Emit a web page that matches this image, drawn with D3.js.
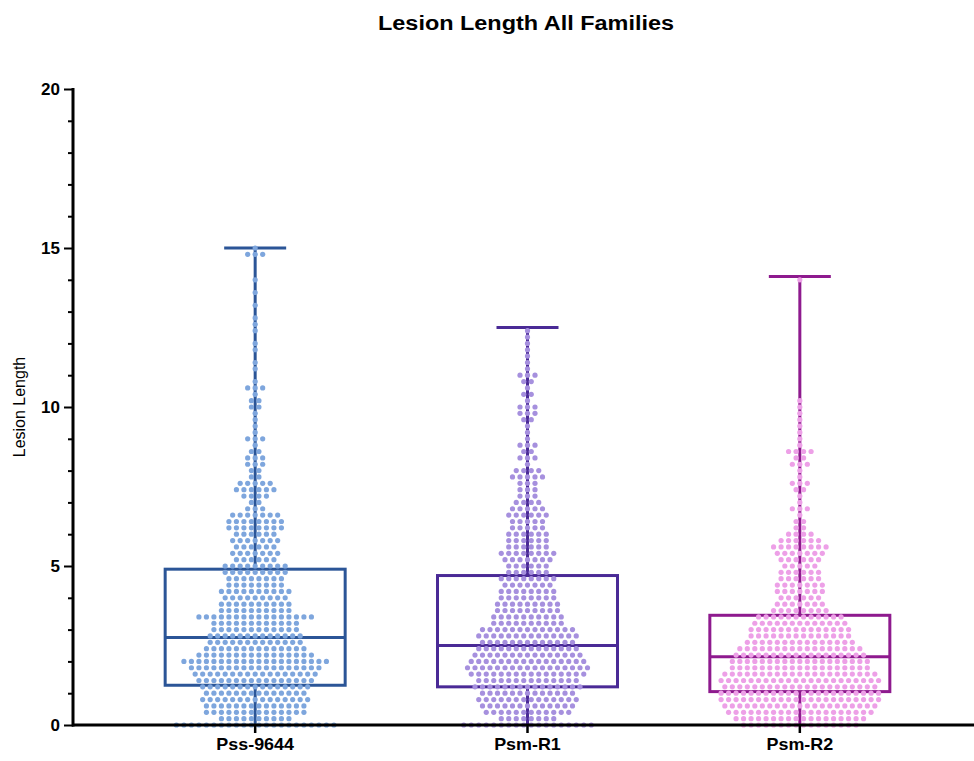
<!DOCTYPE html>
<html>
<head>
<meta charset="utf-8">
<script src="https://cdnjs.cloudflare.com/ajax/libs/d3/7.8.5/d3.min.js"></script>
<style>
  body { margin: 0; background: #fff; }
  text { font-family: "Liberation Sans", Arial, sans-serif; }
</style>
</head>
<body>
<svg id="chart" width="974" height="761"></svg>
<script>
// groups and box stats
var groups = ["Pss-9644", "Psm-R1", "Psm-R2"];
var q1 = [1.25, 1.2, 1.05];
var median = [2.75, 2.5, 2.15];
var q3 = [4.9, 4.7, 3.45];
var whiskerMin = [0, 0, 0];
var whiskerMax = [15.0, 12.5, 14.1];
var boxColor = ["#2b5597", "#4a2a96", "#8e1a8e"];
var dotColor = ["#7ea6dd", "#a690de", "#eda0e7"];

// dots: how many points sit in each 0.2-wide row, from 0 upward
var binWidth = 0.2;
var countsPss = [22, 10, 14, 14, 15, 14, 15, 16, 17, 18, 20, 16, 14, 13, 13, 12, 12, 16, 10, 10,
  9, 10, 8, 8, 9, 9, 6, 7, 6, 7, 6, 8, 8, 7, 3, 2, 4, 6, 5, 2,
  2, 3, 3, 2, 1, 3, 1, 1, 1, 1, 2, 2, 1, 3, 1, 0, 1, 1, 0, 1,
  1, 0, 1, 1, 1, 0, 1, 0, 1, 0, 1, 0, 0, 0, 3, 1];
var countsR1 = [18, 8, 12, 13, 14, 13, 15, 14, 16, 17, 16, 15, 14, 13, 14, 13, 10, 10, 9, 9,
  8, 8, 7, 8, 6, 6, 7, 8, 6, 6, 6, 5, 5, 6, 5, 4, 3, 3, 3, 5,
  4, 1, 3, 2, 3, 1, 1, 1, 2, 3, 3, 1, 2, 1, 2, 3, 1, 1, 1, 1,
  1, 1, 1];
var countsR2 = [16, 18, 20, 21, 22, 22, 21, 22, 21, 19, 19, 18, 17, 15, 14, 14, 13, 12, 8, 7,
  6, 7, 7, 6, 6, 5, 6, 7, 8, 6, 4, 2, 2, 1, 3, 1, 1, 2, 3, 1,
  1, 3, 2, 4, 1, 1, 1, 1, 1, 1, 1, 1, 0, 0, 0, 0, 0, 0, 0, 0,
  0, 0, 0, 0, 0, 0, 0, 0, 0, 0, 1];
var counts = [countsPss, countsR1, countsR2];

var yMajor = [0, 5, 10, 15, 20];
var yMinor = d3.range(0, 21, 1);

var svg = d3.select("#chart");

var x = d3.scaleBand().domain(groups).range([119, 936]);
var y = d3.scaleLinear().domain([0, 20]).range([725, 89]);

// title
svg.append("text")
  .attr("x", 526).attr("y", 30)
  .attr("text-anchor", "middle")
  .attr("textLength", 296).attr("lengthAdjust", "spacingAndGlyphs")
  .style("font-size", "20px").style("font-weight", "bold")
  .text("Lesion Length All Families");

// y label
svg.append("text")
  .attr("transform", "translate(25," + y(10) + ") rotate(-90)")
  .attr("text-anchor", "middle")
  .style("font-size", "16px")
  .text("Lesion Length");

// boxes
var boxW = 180, capW = 62;
groups.forEach(function(g, i) {
  var cx = x(g) + x.bandwidth() / 2;
  var gg = svg.append("g")
    .attr("stroke", boxColor[i]).attr("stroke-width", 3).attr("fill", "none");
  gg.append("line").attr("x1", cx).attr("x2", cx).attr("y1", y(whiskerMax[i])).attr("y2", y(q3[i]));
  gg.append("line").attr("x1", cx).attr("x2", cx).attr("y1", y(q1[i])).attr("y2", y(whiskerMin[i]));
  gg.append("line").attr("x1", cx - capW / 2).attr("x2", cx + capW / 2)
    .attr("y1", y(whiskerMax[i])).attr("y2", y(whiskerMax[i]));
  gg.append("rect").attr("x", cx - boxW / 2).attr("width", boxW)
    .attr("y", y(q3[i])).attr("height", y(q1[i]) - y(q3[i]));
  gg.append("line").attr("x1", cx - boxW / 2).attr("x2", cx + boxW / 2)
    .attr("y1", y(median[i])).attr("y2", y(median[i]));
});

// dots, spread out in rows
var spacing = 7.5;
groups.forEach(function(g, i) {
  var cx = x(g) + x.bandwidth() / 2;
  var pts = [];
  counts[i].forEach(function(n, b) {
    for (var k = 0; k < n; k++) {
      var off = (k - (n - 1) / 2) * spacing;
      pts.push({ v: b * binWidth, dx: off });
    }
  });
  svg.append("g").selectAll("circle")
    .data(pts)
    .join("circle")
    .attr("cx", function(d) { return cx + d.dx; })
    .attr("cy", function(d) { return y(d.v); })
    .attr("r", 2.6)
    .attr("fill", dotColor[i]);
});

// axes
var yAxis = svg.append("g").attr("transform", "translate(73,0)")
  .call(d3.axisLeft(y).tickValues(yMajor).tickSize(9).tickPadding(4).tickFormat(d3.format("d")));
svg.append("g").attr("transform", "translate(73,0)")
  .call(d3.axisLeft(y).tickValues(yMinor.filter(function(v) { return v % 5 != 0; })).tickSize(5).tickFormat(""))
  .select(".domain").remove();
yAxis.select(".domain").attr("stroke-width", 3).attr("d", "M0," + (y(20) - 1) + "V" + (y(0) + 1.5));
svg.selectAll(".tick line").attr("stroke", "#000").attr("stroke-width", 2);
yAxis.selectAll("text").style("font-size", "17px").style("font-weight", "bold")
  .style("font-family", "Liberation Sans, Arial, sans-serif");

var xAxis = svg.append("g").attr("transform", "translate(0," + y(0) + ")")
  .call(d3.axisBottom(x).tickSize(8).tickPadding(6));
xAxis.select(".domain").attr("stroke-width", 3).attr("d", "M72,0H974");
xAxis.selectAll(".tick line").attr("stroke-width", 2.5);
xAxis.selectAll("text").style("font-size", "16px").style("font-weight", "bold")
  .attr("transform", "scale(1.12,1)")
  .style("font-family", "Liberation Sans, Arial, sans-serif");
</script>
</body>
</html>
